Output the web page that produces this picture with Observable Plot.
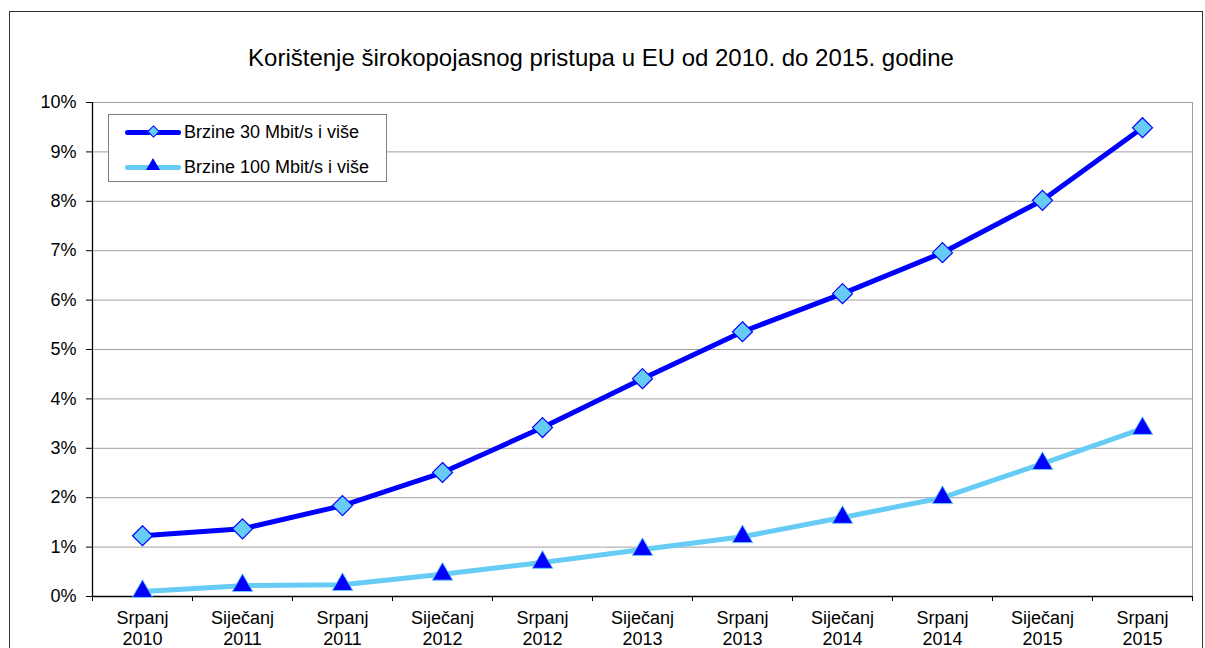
<!DOCTYPE html>
<html>
<head>
<meta charset="utf-8">
<script src="https://cdn.jsdelivr.net/npm/d3@7"></script>
<script src="https://cdn.jsdelivr.net/npm/@observablehq/plot@0.6"></script>
<style>
  body { margin: 0; overflow: hidden; background: #fff; font-family: "Liberation Sans", Arial, sans-serif; }
  #wrap { position: relative; width: 1205px; height: 648px; }
  #frame { position: absolute; left: 9px; top: 11px; width: 1194px; height: 700px; border: 1px solid #333; box-sizing: border-box; }
  #title { position: absolute; left: 0; top: 44px; width: 1202px; text-align: center; font-size: 24px; line-height: 28px; color: #000; }
  #chart { position: absolute; left: 0; top: 0; }
  #legend { position: absolute; left: 108px; top: 114px; width: 279px; height: 68px; border: 1px solid #808080; background: #fff; box-sizing: border-box; }
  .row { position: absolute; left: 0; height: 20px; width: 100%; }
  .ln { position: absolute; left: 16px; width: 56px; height: 5px; border-radius: 3px; top: 8px; }
  .lbl { position: absolute; left: 75px; top: 0; font-size: 18px; line-height: 20px; color: #000; white-space: nowrap; }
  .dia { position: absolute; left: 40px; top: 5px; width: 9px; height: 9px; transform: rotate(45deg); box-sizing: border-box; }
  .tri { position: absolute; left: 37px; top: 1px; width: 0; height: 0; border-left: 7px solid transparent; border-right: 7px solid transparent; }
</style>
</head>
<body>
<div id="wrap">
  <div id="frame"></div>
  <div id="chart"></div>
  <div id="title"></div>
  <div id="legend"></div>
</div>
<script>
const titleText = "Korištenje širokopojasnog pristupa u EU od 2010. do 2015. godine";
const categories = [
  "Srpanj\n2010", "Siječanj\n2011", "Srpanj\n2011", "Siječanj\n2012", "Srpanj\n2012",
  "Siječanj\n2013", "Srpanj\n2013", "Siječanj\n2014", "Srpanj\n2014", "Siječanj\n2015", "Srpanj\n2015"
];
const seriesNames = ["Brzine 30 Mbit/s i više", "Brzine 100 Mbit/s i više"];
const speed30 = [1.23, 1.37, 1.84, 2.51, 3.42, 4.41, 5.36, 6.13, 6.96, 8.02, 9.49];
const speed100 = [0.10, 0.22, 0.24, 0.45, 0.69, 0.95, 1.21, 1.60, 2.00, 2.69, 3.40];
const yTicks = [0, 1, 2, 3, 4, 5, 6, 7, 8, 9, 10];

const dark = "#0000ff";
const light = "#66ccf5";

const idx = categories.map((c, i) => i);
const bounds = [...idx.map(i => i - 0.5), categories.length - 0.5];
const d30 = speed30.map((v, i) => ({i, v}));
const d100 = speed100.map((v, i) => ({i, v}));

document.getElementById("title").textContent = titleText;

const chart = Plot.plot({
  width: 1205,
  height: 648,
  marginLeft: 92,
  marginRight: 13,
  marginTop: 102,
  marginBottom: 52,
  style: {fontFamily: "'Liberation Sans', Arial, sans-serif", color: "#000", background: "transparent"},
  x: {domain: [-0.5, categories.length - 0.5]},
  y: {domain: [0, 10]},
  marks: [
    Plot.gridY(yTicks, {stroke: "#a0a0a0", strokeOpacity: 1, strokeWidth: 1}),
    Plot.frame({stroke: "#a0a0a0"}),
    Plot.ruleY([0], {stroke: "#000", strokeWidth: 1.3}),
    Plot.ruleX([-0.5], {stroke: "#000", strokeWidth: 1.3}),
    Plot.axisY(yTicks, {tickFormat: d => d + "%", tickSize: 6, tickPadding: 10, fontSize: 18, label: null, stroke: "#000"}),
    Plot.axisX(bounds, {tickFormat: null, tickSize: 5, label: null, text: null}),
    Plot.axisX(idx, {tickFormat: i => categories[i], tickSize: 0, tickPadding: 13, fontSize: 18, lineHeight: 1.15, label: null}),
    Plot.line(d100, {x: "i", y: "v", stroke: light, strokeWidth: 5}),
    Plot.dot(d100, {x: "i", y: "v", symbol: "triangle", r: 7.6, fill: dark, stroke: light, strokeWidth: 1}),
    Plot.line(d30, {x: "i", y: "v", stroke: dark, strokeWidth: 5}),
    Plot.dot(d30, {x: "i", y: "v", symbol: "diamond2", r: 9, fill: light, stroke: dark, strokeWidth: 1.2})
  ]
});
document.getElementById("chart").appendChild(chart);

const legend = document.getElementById("legend");
seriesNames.forEach((name, k) => {
  const row = document.createElement("div");
  row.className = "row";
  row.style.top = (k === 0 ? 7 : 42) + "px";
  const ln = document.createElement("div");
  ln.className = "ln";
  ln.style.background = k === 0 ? dark : light;
  row.appendChild(ln);
  const m = document.createElement("div");
  if (k === 0) {
    m.className = "dia";
    m.style.background = light;
    m.style.border = "1px solid " + dark;
  } else {
    m.className = "tri";
    m.style.borderBottom = "12px solid " + dark;
  }
  row.appendChild(m);
  const lbl = document.createElement("div");
  lbl.className = "lbl";
  lbl.textContent = name;
  row.appendChild(lbl);
  legend.appendChild(row);
});
</script>
</body>
</html>
